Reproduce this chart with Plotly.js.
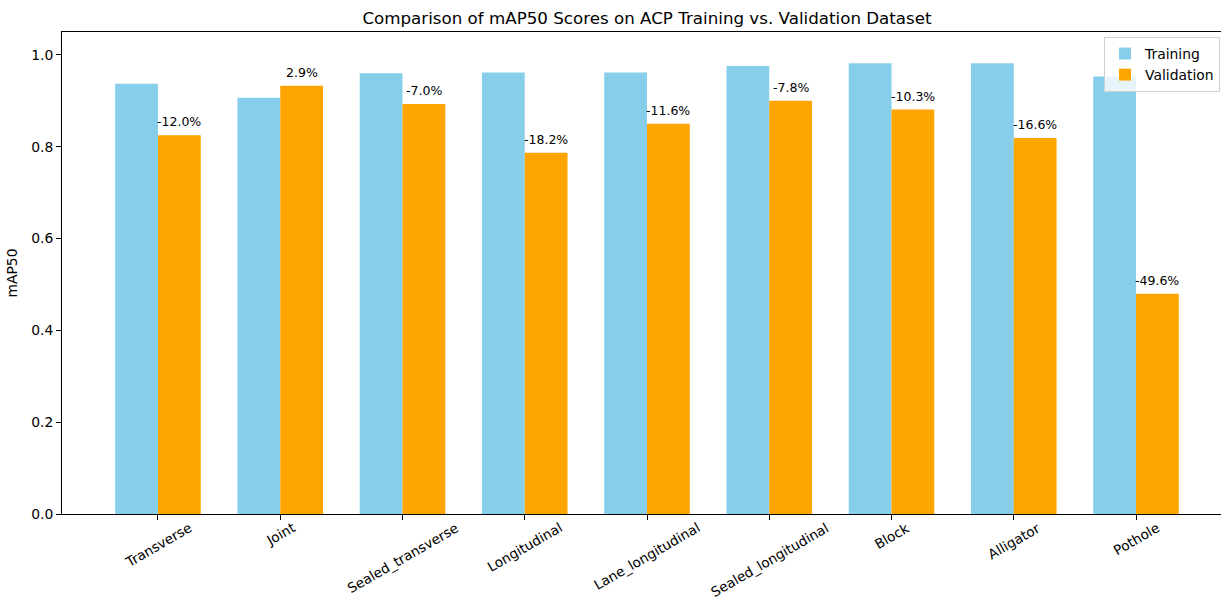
<!DOCTYPE html>
<html>
<head>
<meta charset="utf-8">
<script src="https://cdn.plot.ly/plotly-3.0.1.min.js"></script>
<style>
  html, body { margin: 0; padding: 0; overflow: hidden; background: #fff; }
  #chart { width: 1232px; height: 601px; }
</style>
</head>
<body>
<div id="chart"></div>
<script>
// Crack classes and their mAP50 on the ACP training and validation sets
const categories = ['Transverse', 'Joint', 'Sealed_transverse', 'Longitudinal',
  'Lane_longitudinal', 'Sealed_longitudinal', 'Block', 'Alligator', 'Pothole'];
const trainingMap50 = [0.937, 0.907, 0.960, 0.962, 0.962, 0.976, 0.982, 0.982, 0.953];
const validationMap50 = [0.825, 0.933, 0.893, 0.787, 0.850, 0.900, 0.881, 0.819, 0.480];
const yTickValues = [0.0, 0.2, 0.4, 0.6, 0.8, 1.0];

const FONT = 'DejaVu Sans, sans-serif';
const barWidth = 0.35;
const idx = categories.map((_, i) => i);

const traces = [
  {
    type: 'bar', name: 'Training',
    x: idx.map(i => i - barWidth / 2), y: trainingMap50,
    width: barWidth, marker: { color: '#87CEEB' }, hoverinfo: 'skip'
  },
  {
    type: 'bar', name: 'Validation',
    x: idx.map(i => i + barWidth / 2), y: validationMap50,
    width: barWidth, marker: { color: '#FFA500' }, hoverinfo: 'skip'
  }
];

const annotations = [];

// Relative change from training to validation, written above each validation bar
idx.forEach(i => {
  const pct = (validationMap50[i] - trainingMap50[i]) / trainingMap50[i] * 100;
  annotations.push({
    x: i + barWidth / 2, y: validationMap50[i], xref: 'x', yref: 'y',
    text: pct.toFixed(1) + '%', showarrow: false,
    xanchor: 'center', yanchor: 'bottom', yshift: 4,
    font: { family: FONT, size: 12.5, color: '#000' }
  });
});

// Rotated category labels centred under each tick
idx.forEach(i => {
  annotations.push({
    x: i, y: 0, xref: 'x', yref: 'paper',
    text: categories[i], showarrow: false, textangle: -30,
    xanchor: 'center', yanchor: 'top', yshift: -4, borderpad: 0,
    font: { family: FONT, size: 13.6, color: '#000' }
  });
});

const layout = {
  width: 1232, height: 601,
  margin: { l: 62, r: 0, t: 32, b: 87 },
  paper_bgcolor: '#fff', plot_bgcolor: '#fff',
  font: { family: FONT, size: 13.9, color: '#000' },
  title: {
    text: 'Comparison of mAP50 Scores on ACP Training vs. Validation Dataset',
    font: { family: FONT, size: 16.7, color: '#000' },
    x: 0.5, xref: 'paper', y: 1 - 18 / 601, yref: 'container', yanchor: 'middle'
  },
  barmode: 'overlay',
  xaxis: {
    range: [-0.785, 8.785], tickvals: idx, showticklabels: false,
    ticks: 'outside', ticklen: 5, tickwidth: 1, tickcolor: '#000',
    showline: true, linecolor: '#000', linewidth: 1, mirror: true,
    showgrid: false, zeroline: false, fixedrange: true
  },
  yaxis: {
    range: [0, 1.05], tickvals: yTickValues, tickformat: '.1f',
    ticks: 'outside', ticklen: 5, tickwidth: 1, tickcolor: '#000',
    tickfont: { family: FONT, size: 13.9, color: '#000' },
    showline: true, linecolor: '#000', linewidth: 1, mirror: true,
    showgrid: false, zeroline: false, fixedrange: true,
    title: { text: 'mAP50', font: { family: FONT, size: 13.9, color: '#000' }, standoff: 10 }
  },
  legend: {
    x: (1220 - 62) / 1170, xanchor: 'right', y: (514 - 37) / 482, yanchor: 'top',
    bgcolor: 'rgba(255,255,255,0.8)', bordercolor: '#d0d0d0', borderwidth: 1,
    font: { family: FONT, size: 13.9, color: '#000' }, traceorder: 'normal'
  },
  annotations: annotations,
  showlegend: true
};

Plotly.newPlot('chart', traces, layout, { staticPlot: true, displayModeBar: false });
</script>
</body>
</html>
